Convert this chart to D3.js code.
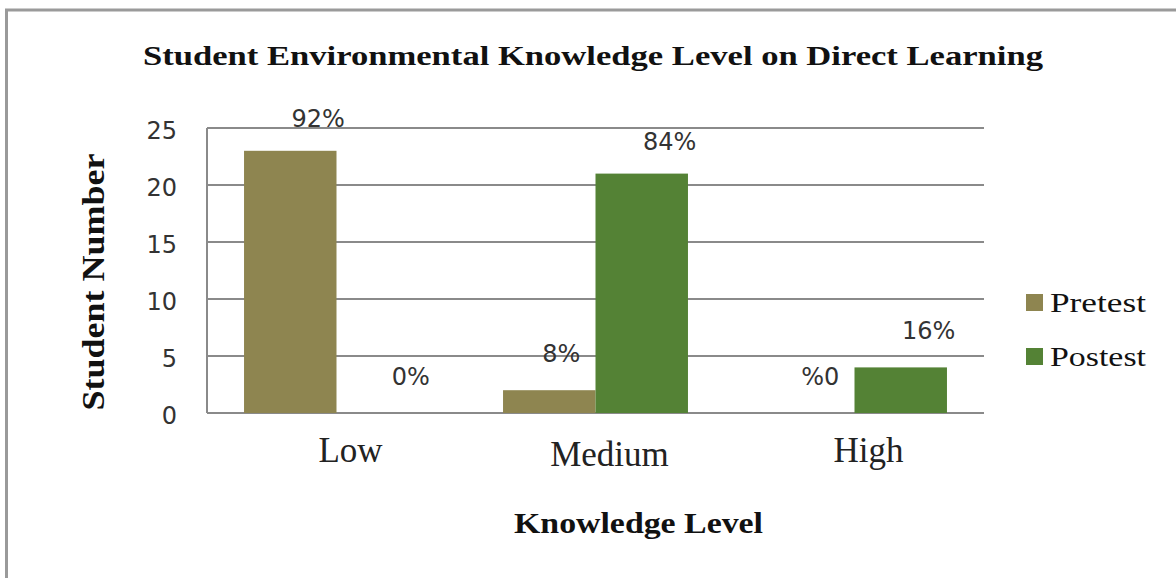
<!DOCTYPE html>
<html>
<head>
<meta charset="utf-8">
<script src="https://cdn.jsdelivr.net/npm/d3@7"></script>
<style>
  html, body { margin: 0; padding: 0; background: #fff; }
  svg { display: block; }
</style>
</head>
<body>
<svg id="chart" width="1176" height="578"></svg>
<script>
// Knowledge levels and student counts per test
const categories = ["Low", "Medium", "High"];
const seriesNames = ["Pretest", "Postest"];
const pretest = [23, 2, 0];
const postest = [0, 21, 4];
const pretestLabels = ["92%", "8%", "%0"];
const postestLabels = ["0%", "84%", "16%"];
const yTicks = [0, 5, 10, 15, 20, 25];
const colors = ["#8e8550", "#548235"];

const svg = d3.select("#chart");
const W = 1176, H = 578;

// outer chart frame (runs off the right and bottom edges)
svg.append("rect")
  .attr("x", 6.5).attr("y", 10)
  .attr("width", W + 10).attr("height", H + 10)
  .attr("fill", "none").attr("stroke", "#9a9a9a").attr("stroke-width", 3);

const plot = { left: 207, right: 984, top: 128, bottom: 413 };

const x0 = d3.scaleBand()
  .domain(categories)
  .range([plot.left, plot.right])
  .paddingInner(0.286).paddingOuter(0.143);

const x1 = d3.scaleBand()
  .domain(seriesNames)
  .range([0, x0.bandwidth()]);

const y = d3.scaleLinear().domain([0, 25]).range([plot.bottom, plot.top]);

// horizontal gridlines
svg.append("g").selectAll("line")
  .data(yTicks)
  .join("line")
  .attr("x1", plot.left).attr("x2", plot.right)
  .attr("y1", d => y(d)).attr("y2", d => y(d))
  .attr("stroke", "#8a8a8a").attr("stroke-width", 2);

// vertical value axis line
svg.append("line")
  .attr("x1", plot.left).attr("x2", plot.left)
  .attr("y1", plot.top).attr("y2", plot.bottom)
  .attr("stroke", "#8a8a8a").attr("stroke-width", 2);

// tick labels
const yAxis = d3.axisLeft(y).tickValues(yTicks).tickSize(0).tickPadding(30);
const yg = svg.append("g").attr("transform", `translate(${plot.left},0)`).call(yAxis);
yg.select(".domain").remove();
yg.selectAll("text")
  .attr("font-family", "DejaVu Sans, Verdana, sans-serif")
  .attr("font-size", 24)
  .attr("fill", "#333")
  .attr("dy", "0.45em");

// bars
const rows = categories.map((c, i) => ({
  cat: c,
  vals: [
    { key: "Pretest", v: pretest[i], label: pretestLabels[i] },
    { key: "Postest", v: postest[i], label: postestLabels[i] }
  ]
}));

const groups = svg.append("g").selectAll("g")
  .data(rows)
  .join("g")
  .attr("transform", d => `translate(${x0(d.cat)},0)`);

groups.selectAll("rect")
  .data(d => d.vals)
  .join("rect")
  .attr("x", d => x1(d.key))
  .attr("width", x1.bandwidth())
  .attr("y", d => y(d.v))
  .attr("height", d => y(0) - y(d.v))
  .attr("fill", (d, i) => colors[i]);

// percentage labels above bars
const labelShift = { Pretest: 12, Postest: 28 };
groups.selectAll("text")
  .data(d => d.vals)
  .join("text")
  .attr("x", d => x1(d.key) + x1.bandwidth() / 2 + (d.v >= 20 ? 28 : labelShift[d.key]))
  .attr("y", d => y(d.v) - (d.v >= 20 ? 24 : 28))
  .attr("text-anchor", "middle")
  .attr("font-family", "DejaVu Sans, Verdana, sans-serif")
  .attr("font-size", 24)
  .attr("fill", "#333")
  .text(d => d.label);

// category labels
svg.append("g").selectAll("text")
  .data(categories)
  .join("text")
  .attr("x", d => x0(d) + x0.bandwidth() / 2 + 14)
  .attr("y", (d, i) => i === 1 ? 466 : 462)
  .attr("text-anchor", "middle")
  .attr("font-family", "Liberation Serif, Times New Roman, serif")
  .attr("font-size", 35)
  .attr("fill", "#222")
  .text(d => d);

// chart title
svg.append("text")
  .attr("x", 143).attr("y", 65)
  .attr("textLength", 900).attr("lengthAdjust", "spacingAndGlyphs")
  .attr("font-family", "Liberation Serif, Times New Roman, serif")
  .attr("font-weight", "bold")
  .attr("font-size", 28)
  .attr("fill", "#111")
  .text("Student Environmental  Knowledge  Level  on Direct Learning");

// axis titles
svg.append("text")
  .attr("transform", "translate(104,282) rotate(-90)")
  .attr("text-anchor", "middle")
  .attr("textLength", 257).attr("lengthAdjust", "spacingAndGlyphs")
  .attr("font-family", "Liberation Serif, Times New Roman, serif")
  .attr("font-weight", "bold")
  .attr("font-size", 32)
  .attr("fill", "#111")
  .text("Student Number");

svg.append("text")
  .attr("x", 514).attr("y", 533)
  .attr("textLength", 249).attr("lengthAdjust", "spacingAndGlyphs")
  .attr("font-family", "Liberation Serif, Times New Roman, serif")
  .attr("font-weight", "bold")
  .attr("font-size", 29)
  .attr("fill", "#111")
  .text("Knowledge  Level");

// legend
const legend = svg.append("g").selectAll("g")
  .data(seriesNames)
  .join("g")
  .attr("transform", (d, i) => `translate(1026,${294 + i * 54})`);

legend.append("rect")
  .attr("width", 17).attr("height", 17)
  .attr("fill", (d, i) => colors[i]);

legend.append("text")
  .attr("x", 24).attr("y", 18)
  .attr("textLength", 96).attr("lengthAdjust", "spacingAndGlyphs")
  .attr("font-family", "Liberation Serif, Times New Roman, serif")
  .attr("font-size", 27)
  .attr("fill", "#111")
  .text(d => d);
</script>
</body>
</html>
